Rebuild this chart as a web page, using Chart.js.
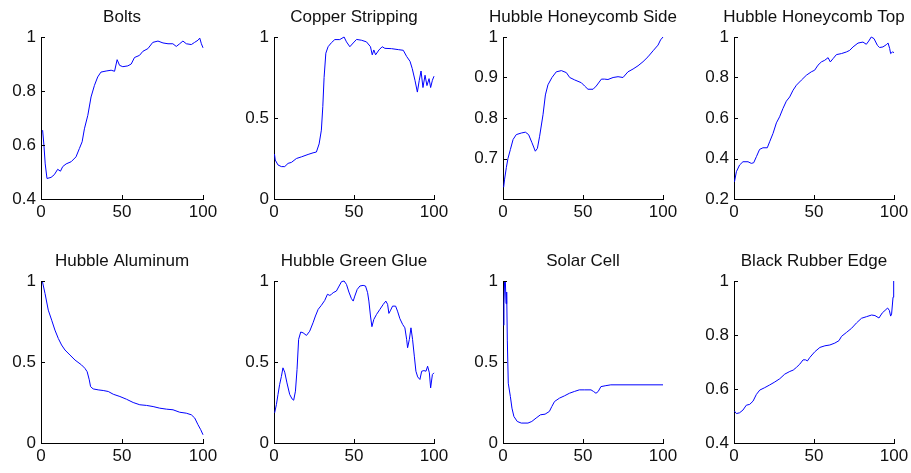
<!DOCTYPE html>
<html>
<head>
<meta charset="utf-8">
<script src="https://cdn.jsdelivr.net/npm/chart.js@4/dist/chart.umd.min.js"></script>
<style>
  body { margin: 0; background: #fff; }
  #wrap { position: relative; width: 911px; height: 473px; overflow: hidden; }
  canvas { position: absolute; }
</style>
</head>
<body>
<div id="wrap"></div>
<script>
// titles of the 8 panels, row by row
const titles = ["Bolts", "Copper Stripping", "Hubble Honeycomb Side", "Hubble Honeycomb Top",
                "Hubble Aluminum", "Hubble Green Glue", "Solar Cell", "Black Rubber Edge"];

const xTicks = [0, 50, 100];
const boltsTicks = [0.4, 0.6, 0.8, 1];
const copperTicks = [0, 0.5, 1];
const hhSideTicks = [0.7, 0.8, 0.9, 1];
const hhTopTicks = [0.2, 0.4, 0.6, 0.8, 1];
const aluTicks = [0, 0.5, 1];
const glueTicks = [0, 0.5, 1];
const solarTicks = [0, 0.5, 1];
const rubberTicks = [0.4, 0.6, 0.8, 1];

const boltsX = [1, 1.8, 2.6, 3.7, 6.2, 8.2, 10.3, 12, 13.4, 15.5, 18.6, 21.6, 23.7, 25.4, 26.8, 28.9, 30.9, 33, 35, 37, 40.2, 43.3, 45.4, 47, 48.5, 50.5, 53.6, 55.7, 57.7, 60.8, 62.9, 66, 69, 72.2, 75.3, 78.4, 81.4, 83.5, 85.6, 87.6, 89.7, 92.8, 94.8, 96.9, 98, 99, 100];
const boltsY = [0.655, 0.60, 0.53, 0.476, 0.48, 0.49, 0.51, 0.503, 0.52, 0.53, 0.538, 0.556, 0.587, 0.612, 0.66, 0.71, 0.778, 0.821, 0.852, 0.87, 0.874, 0.877, 0.873, 0.916, 0.895, 0.89, 0.893, 0.90, 0.924, 0.932, 0.947, 0.957, 0.98, 0.985, 0.978, 0.975, 0.975, 0.965, 0.975, 0.985, 0.975, 0.972, 0.98, 0.988, 0.996, 0.975, 0.96];

const copperX = [0.3, 0.8, 2.5, 4.6, 6.7, 8.8, 10.9, 14, 17.1, 21.3, 24.4, 26.5, 28.2, 29.6, 30.5, 31.3, 32.4, 33.8, 35.9, 38, 41.1, 43.8, 45.3, 47.4, 49.5, 51.6, 54.7, 57.8, 60.3, 61.4, 62.4, 63.5, 65.6, 67.6, 69.3, 73.5, 77.7, 80.8, 82.9, 85, 86.4, 88.1, 89.6, 90.8, 91.9, 93.1, 94.4, 95.6, 96.9, 97.9, 99, 100];
const copperY = [0.277, 0.24, 0.21, 0.2, 0.2, 0.22, 0.226, 0.25, 0.26, 0.275, 0.285, 0.29, 0.34, 0.425, 0.57, 0.75, 0.9, 0.94, 0.965, 0.984, 0.984, 1.0, 0.97, 0.94, 0.963, 0.985, 0.98, 0.97, 0.94, 0.89, 0.92, 0.89, 0.92, 0.94, 0.93, 0.928, 0.922, 0.918, 0.88, 0.85, 0.805, 0.733, 0.66, 0.733, 0.79, 0.688, 0.764, 0.70, 0.743, 0.688, 0.733, 0.758];

const hhSideX = [0.4, 1, 2.1, 3.1, 4.6, 6.3, 8.3, 11.5, 14, 16, 18.1, 20.2, 21.5, 22.9, 25, 26.5, 28.1, 30.6, 33.3, 36.5, 39.6, 41.7, 44.8, 49, 51, 53.1, 56.3, 58.3, 61.5, 63.5, 65.6, 68.8, 71.9, 75, 78.1, 81.3, 84.4, 87.5, 90.6, 93.8, 96.9, 98.5, 100];
const hhSideY = [0.629, 0.649, 0.678, 0.70, 0.722, 0.747, 0.759, 0.763, 0.765, 0.759, 0.739, 0.718, 0.725, 0.755, 0.808, 0.857, 0.882, 0.90, 0.914, 0.917, 0.912, 0.90, 0.894, 0.887, 0.879, 0.871, 0.871, 0.879, 0.896, 0.896, 0.895, 0.90, 0.902, 0.90, 0.914, 0.921, 0.929, 0.939, 0.951, 0.966, 0.98, 0.993, 1.0];

const hhTopX = [0.3, 1.5, 3.5, 5.6, 8.75, 10.8, 12.3, 14, 16, 18.1, 20.8, 22.3, 24.4, 26.5, 28.5, 30.6, 32.7, 34.8, 36.9, 39, 42.1, 45.2, 48.3, 50.4, 52.5, 54.6, 56.7, 58.8, 60.2, 61.9, 64, 67.1, 70.2, 72.3, 74.4, 77.5, 80.6, 82.7, 84.2, 85.8, 87.5, 89.6, 91, 93.1, 95.2, 96.3, 97.3, 97.9, 99, 100];
const hhTopY = [0.285, 0.335, 0.368, 0.384, 0.384, 0.376, 0.379, 0.409, 0.445, 0.453, 0.453, 0.483, 0.524, 0.576, 0.606, 0.647, 0.683, 0.704, 0.737, 0.762, 0.787, 0.811, 0.828, 0.836, 0.861, 0.877, 0.885, 0.898, 0.877, 0.893, 0.913, 0.918, 0.926, 0.934, 0.951, 0.97, 0.975, 0.964, 0.98, 1.0, 0.992, 0.959, 0.948, 0.951, 0.962, 0.97, 0.943, 0.918, 0.926, 0.923];

const aluX = [0.8, 2.5, 4.5, 6.6, 8.6, 10.7, 12.7, 14.8, 17.9, 21, 25, 27.1, 28.5, 29.8, 30.6, 32.2, 35.3, 38.4, 41.5, 44.6, 48.7, 52.8, 56.9, 61, 65.1, 69.2, 73.3, 77.4, 81.5, 85.6, 89.7, 92.8, 94.9, 96.9, 98.6, 100];
const aluY = [1.0, 0.922, 0.82, 0.758, 0.697, 0.645, 0.605, 0.574, 0.543, 0.512, 0.482, 0.461, 0.44, 0.39, 0.348, 0.334, 0.328, 0.324, 0.318, 0.301, 0.287, 0.27, 0.25, 0.236, 0.232, 0.225, 0.215, 0.209, 0.205, 0.19, 0.184, 0.174, 0.154, 0.113, 0.082, 0.051];

const glueX = [0.4, 1.5, 2.5, 3.5, 4.6, 5.6, 6.7, 8.1, 9.8, 11.3, 12.3, 13.4, 14.4, 15.4, 16.7, 18.2, 20.3, 22.3, 24.4, 25.9, 27.6, 29.6, 31.7, 33.4, 34.9, 35.9, 37, 39, 40.7, 42.2, 43.8, 45.3, 46.8, 48.4, 49.5, 50.5, 52, 53.7, 55.7, 57.2, 58.5, 59.3, 60.3, 61.2, 62.4, 64.1, 66.2, 68.3, 69.9, 71, 71.8, 72.9, 74.1, 76, 77.2, 78.7, 80.4, 81.8, 82.9, 83.5, 84.6, 85.6, 86.6, 87.7, 88.7, 89.8, 91.2, 92.3, 93.7, 95, 96, 97.1, 97.9, 99, 100];
const glueY = [0.186, 0.237, 0.3, 0.36, 0.41, 0.464, 0.437, 0.371, 0.3, 0.272, 0.264, 0.32, 0.454, 0.64, 0.685, 0.68, 0.664, 0.69, 0.742, 0.784, 0.825, 0.85, 0.88, 0.918, 0.911, 0.918, 0.928, 0.938, 0.969, 0.996, 1.0, 0.979, 0.932, 0.891, 0.876, 0.907, 0.948, 0.969, 0.973, 0.969, 0.928, 0.876, 0.784, 0.718, 0.763, 0.794, 0.825, 0.856, 0.876, 0.856, 0.8, 0.82, 0.845, 0.845, 0.814, 0.767, 0.732, 0.711, 0.64, 0.588, 0.64, 0.711, 0.64, 0.536, 0.443, 0.408, 0.392, 0.443, 0.447, 0.443, 0.474, 0.433, 0.34, 0.423, 0.433];

const solarX = [0.4, 0.6, 1, 1.5, 1.9, 2.3, 2.7, 3.3, 4.6, 5.6, 6.8, 8.9, 11.4, 15.6, 18, 20.7, 23.4, 26.3, 29, 30.5, 32.2, 35.3, 38.4, 41.5, 44.6, 47.7, 50.8, 55, 56.6, 58.1, 59.5, 61.2, 64.3, 67.4, 100];
const solarY = [0.727, 0.86, 1.0, 0.994, 0.86, 0.932, 0.635, 0.369, 0.287, 0.215, 0.164, 0.133, 0.123, 0.123, 0.133, 0.154, 0.174, 0.178, 0.195, 0.225, 0.256, 0.277, 0.291, 0.307, 0.318, 0.328, 0.328, 0.328, 0.318, 0.307, 0.318, 0.348, 0.354, 0.359, 0.359];

const rubberX = [0.3, 1.5, 3.5, 5.6, 7.7, 9.8, 11.9, 14, 16.1, 19.2, 22.3, 25.5, 28.6, 31.7, 34.9, 37, 39, 41.1, 43.2, 44.7, 45.9, 47.4, 50.5, 53.7, 56.8, 59.9, 63, 65.6, 67.2, 70.4, 73.5, 76.6, 79.7, 82.9, 86, 88.1, 90.6, 92.7, 94.4, 96, 97.1, 97.9, 98.5, 99.4, 99.8];
const rubberY = [0.518, 0.509, 0.512, 0.522, 0.54, 0.543, 0.555, 0.58, 0.596, 0.605, 0.615, 0.626, 0.638, 0.655, 0.665, 0.67, 0.68, 0.692, 0.708, 0.708, 0.704, 0.717, 0.738, 0.754, 0.76, 0.763, 0.77, 0.779, 0.795, 0.81, 0.825, 0.845, 0.862, 0.868, 0.874, 0.872, 0.863, 0.882, 0.891, 0.9, 0.891, 0.87, 0.878, 0.94, 1.0];

const panels = [
  [boltsX, boltsY, boltsTicks],
  [copperX, copperY, copperTicks],
  [hhSideX, hhSideY, hhSideTicks],
  [hhTopX, hhTopY, hhTopTicks],
  [aluX, aluY, aluTicks],
  [glueX, glueY, glueTicks],
  [solarX, solarY, solarTicks],
  [rubberX, rubberY, rubberTicks]
];
// y-axis min for each panel (Honeycomb Side starts below its first label)
const yMins = [0.4, 0, 0.6, 0.2, 0, 0, 0, 0.4];

// plot box placement (MATLAB-like subplot grid)
const colLeft = [41, 274, 503, 734];
const colWidth = [162, 160, 160, 160];
const rowTop = [37, 281];
const plotH = 162;
const yAxisW = 41, titleH = 34, xAxisH = 30;
const padRight = yAxisW; // symmetric canvas so the title can centre on the axes

const FONT = "'Liberation Sans', Arial, Helvetica, sans-serif";

// MATLAB style: ticks pointing inside, title centred over the axes box
const matlabLook = {
  id: 'matlabLook',
  afterLayout(chart) {
    if (chart.titleBlock) {
      chart.titleBlock.left = 0;
      chart.titleBlock.right = chart.width;
      chart.titleBlock.width = chart.width;
    }
  },
  afterDraw(chart) {
    const ctx = chart.ctx, a = chart.chartArea;
    ctx.save();
    ctx.strokeStyle = '#000';
    ctx.lineWidth = 1;
    ctx.beginPath();
    chart.scales.x.ticks.forEach(function(t) {
      const px = Math.round(chart.scales.x.getPixelForValue(t.value)) + 0.5;
      ctx.moveTo(px, a.bottom);
      ctx.lineTo(px, a.bottom - 4);
    });
    chart.scales.y.ticks.forEach(function(t) {
      const py = Math.round(chart.scales.y.getPixelForValue(t.value)) + 0.5;
      ctx.moveTo(a.left, py);
      ctx.lineTo(a.left + 4, py);
    });
    ctx.stroke();
    ctx.restore();
  }
};

const wrap = document.getElementById('wrap');

for (let i = 0; i < panels.length; i++) {
  const col = i % 4, row = Math.floor(i / 4);
  const xs = panels[i][0], ys = panels[i][1], yt = panels[i][2];
  const canvas = document.createElement('canvas');
  canvas.width = yAxisW + colWidth[col] + padRight;
  canvas.height = titleH + plotH + xAxisH;
  canvas.style.left = (colLeft[col] - yAxisW) + 'px';
  canvas.style.top = (rowTop[row] - titleH) + 'px';
  wrap.appendChild(canvas);

  const pts = xs.map(function(x, k) { return { x: x, y: ys[k] }; });

  new Chart(canvas, {
    type: 'line',
    data: {
      datasets: [{
        data: pts,
        borderColor: '#0000ff',
        borderWidth: 1,
        pointRadius: 0,
        tension: 0,
        fill: false,
        clip: 4
      }]
    },
    options: {
      responsive: false,
      animation: false,
      events: [],
      layout: { padding: { left: 0, top: 0, right: padRight, bottom: 0 } },
      plugins: {
        legend: { display: false },
        tooltip: { enabled: false },
        title: {
          display: true,
          text: titles[i],
          color: '#111',
          font: { family: FONT, size: 17, weight: 'normal', lineHeight: '20px' },
          padding: { top: 4, bottom: 10 }
        }
      },
      scales: {
        x: {
          type: 'linear',
          min: 0,
          max: 100,
          afterBuildTicks: function(s) { s.ticks = xTicks.map(function(v) { return { value: v }; }); },
          afterFit: function(s) { s.height = xAxisH; },
          grid: { display: false, drawTicks: false },
          border: { display: true, color: '#000', width: 1 },
          ticks: {
            autoSkip: false,
            maxRotation: 0,
            padding: 3,
            color: '#111',
            font: { family: FONT, size: 17 },
            callback: function(v) { return String(v); }
          }
        },
        y: {
          type: 'linear',
          min: yMins[i],
          max: 1,
          afterBuildTicks: function(s) { s.ticks = yt.map(function(v) { return { value: v }; }); },
          afterFit: function(s) { s.width = yAxisW; },
          grid: { display: false, drawTicks: false },
          border: { display: true, color: '#000', width: 1 },
          ticks: {
            autoSkip: false,
            padding: 5,
            color: '#111',
            font: { family: FONT, size: 17 },
            callback: function(v) { return String(v); }
          }
        }
      }
    },
    plugins: [matlabLook]
  });
}
</script>
</body>
</html>
